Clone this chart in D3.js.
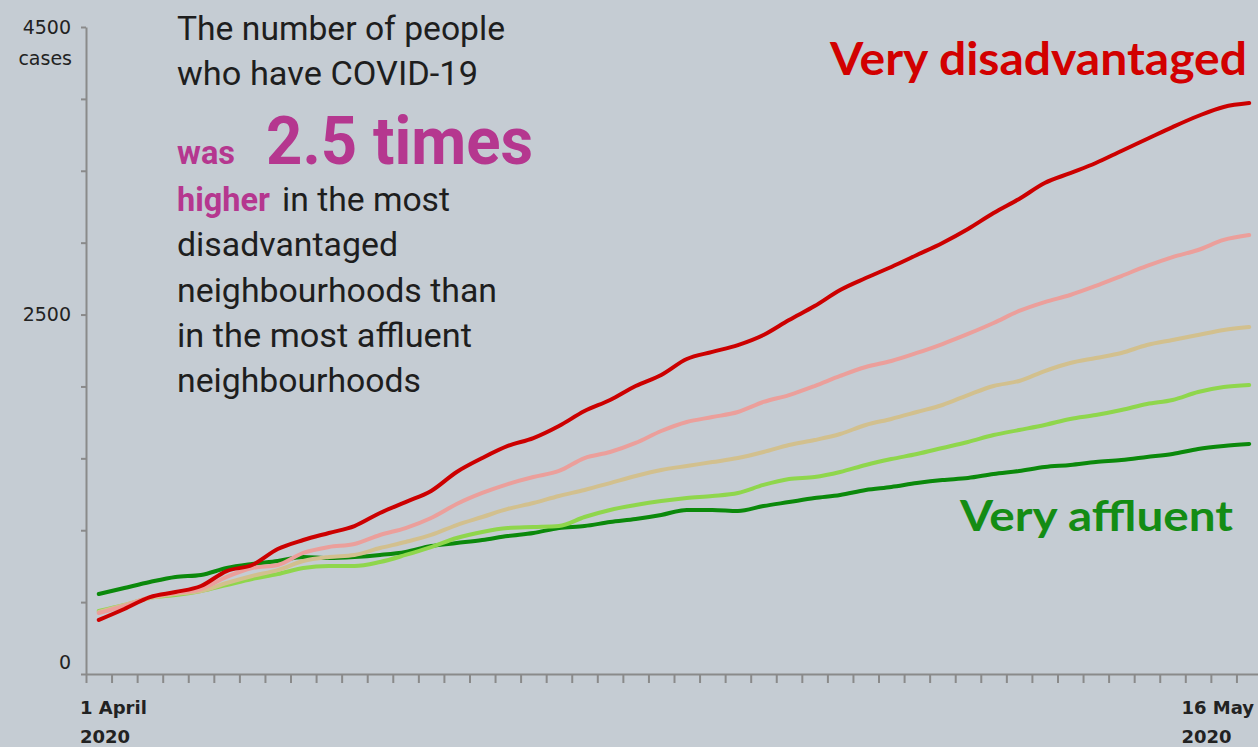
<!DOCTYPE html>
<html>
<head>
<meta charset="utf-8">
<title>COVID-19 cases by neighbourhood</title>
<script src="https://d3js.org/d3.v7.min.js"></script>
<style>
  body { margin: 0; background: #c5ccd3; overflow: hidden; }
  svg { display: block; }
</style>
</head>
<body>
<svg id="chart" width="1258" height="747"></svg>
<script>

// one value per day, 1 April .. 16 May 2020
var days = d3.timeDay.range(new Date(2020, 3, 1), new Date(2020, 4, 17));

var veryDisadvantaged = [376, 452, 535, 570, 612, 716, 758, 869, 932, 981, 1029, 1120, 1196, 1273, 1405, 1502,
  1586, 1641, 1725, 1829, 1906, 2003, 2080, 2191, 2240, 2288, 2358, 2462, 2559, 2671, 2754, 2831,
  2914, 2998, 3095, 3206, 3304, 3415, 3484, 3554, 3638, 3721, 3804, 3881, 3944, 3971];
var disadvantaged = [424, 473, 535, 563, 591, 675, 737, 758, 842, 883, 904, 967, 1015, 1085, 1182, 1259,
  1321, 1370, 1412, 1502, 1544, 1607, 1690, 1753, 1787, 1822, 1892, 1940, 2003, 2073, 2135, 2177,
  2233, 2295, 2365, 2441, 2525, 2587, 2636, 2699, 2768, 2838, 2900, 2949, 3019, 3053];
var middle = [431, 480, 529, 556, 577, 633, 682, 723, 786, 814, 828, 876, 918, 967, 1036, 1092,
  1148, 1189, 1238, 1280, 1328, 1377, 1419, 1447, 1474, 1502, 1544, 1593, 1627, 1669, 1732, 1774,
  1822, 1871, 1940, 2003, 2038, 2107, 2163, 2198, 2233, 2288, 2323, 2358, 2393, 2413];
var affluent = [438, 480, 529, 549, 577, 619, 661, 695, 737, 751, 751, 779, 828, 883, 946, 988,
  1015, 1022, 1029, 1092, 1141, 1175, 1203, 1224, 1238, 1259, 1315, 1356, 1370, 1405, 1454, 1495,
  1530, 1572, 1614, 1662, 1697, 1732, 1774, 1801, 1836, 1878, 1906, 1961, 1996, 2010];
var veryAffluent = [556, 598, 640, 675, 689, 737, 765, 786, 814, 807, 814, 828, 849, 890, 911, 932,
  960, 981, 1015, 1029, 1057, 1078, 1106, 1141, 1141, 1134, 1168, 1196, 1224, 1245, 1280, 1301,
  1328, 1349, 1363, 1391, 1412, 1440, 1454, 1474, 1488, 1509, 1530, 1565, 1586, 1600];

var yTicks = d3.range(0, 4501, 500);
var yLabels = [0, 2500, 4500];

// drawn bottom to top so the red line sits over the others
var series = [
  { name: "Very affluent", values: veryAffluent, color: "#0b890b" },
  { name: "Affluent", values: affluent, color: "#8fd64c" },
  { name: "Middle", values: middle, color: "#d2c08e" },
  { name: "Disadvantaged", values: disadvantaged, color: "#eb9f9b" },
  { name: "Very disadvantaged", values: veryDisadvantaged, color: "#cc0000" }
];

var svg = d3.select("#chart");

svg.append("rect")
  .attr("width", 1258)
  .attr("height", 747)
  .attr("fill", "#c5ccd3");

// scales: each day is a slot between two ticks
var x = d3.scaleTime()
  .domain([days[0], d3.timeDay.offset(days[days.length - 1], 1)])
  .range([86, 1262]);

var y = d3.scaleLinear()
  .domain([0, 4500])
  .range([674, 27]);

var mid = function(d) { return x(d3.timeHour.offset(d, 12)); };

// x axis
var xAxis = svg.append("g")
  .attr("transform", "translate(0,674)")
  .call(d3.axisBottom(x)
    .ticks(d3.timeDay.every(1))
    .tickSize(9)
    .tickSizeOuter(0)
    .tickFormat(""));

// y axis
var yAxis = svg.append("g")
  .attr("transform", "translate(86,0)")
  .call(d3.axisLeft(y)
    .tickValues(yTicks)
    .tickSize(5)
    .tickSizeOuter(0)
    .tickPadding(10)
    .tickFormat(function(d) { return yLabels.indexOf(d) >= 0 ? d : ""; }));

svg.selectAll(".domain, .tick line")
  .attr("stroke", "#8a8a8a")
  .attr("stroke-width", 2);

yAxis.selectAll("text")
  .style("font-family", "DejaVu Sans")
  .style("font-size", "19px")
  .attr("fill", "#222");

// the 0 label sits a little above its tick
yAxis.selectAll(".tick")
  .filter(function(d) { return d === 0; })
  .select("text")
  .attr("dy", "-0.3em");

svg.append("text")
  .attr("x", 72)
  .attr("y", 65)
  .attr("text-anchor", "end")
  .style("font-family", "DejaVu Sans")
  .style("font-size", "19px")
  .attr("fill", "#222")
  .text("cases");

// date labels
var dateLabels = [
  { day: days[0], lines: ["1 April", "2020"], dx: -6 },
  { day: days[days.length - 1], lines: ["16 May", "2020"], dx: -55 }
];

dateLabels.forEach(function(l) {
  l.lines.forEach(function(t, i) {
    svg.append("text")
      .attr("x", x(l.day) + l.dx)
      .attr("y", 714 + i * 29)
      .style("font-family", "DejaVu Sans")
      .style("font-weight", "bold")
      .style("font-size", "18px")
      .attr("fill", "#222")
      .text(t);
  });
});

// lines
var line = d3.line()
  .x(function(d, i) { return mid(days[i]); })
  .y(function(d) { return y(d); })
  .curve(d3.curveMonotoneX);

svg.append("g")
  .selectAll("path")
  .data(series)
  .enter()
  .append("path")
  .attr("d", function(d) { return line(d.values); })
  .attr("fill", "none")
  .attr("stroke", function(d) { return d.color; })
  .attr("stroke-width", 4)
  .attr("stroke-linejoin", "round")
  .attr("stroke-linecap", "round");

// end labels
svg.append("text")
  .attr("x", 830)
  .attr("y", 75)
  .attr("textLength", 417)
  .attr("lengthAdjust", "spacingAndGlyphs")
  .style("font-family", "Lato")
  .style("font-weight", "bold")
  .style("font-size", "46px")
  .attr("fill", "#d20000")
  .text("Very disadvantaged");

svg.append("text")
  .attr("x", 960)
  .attr("y", 531)
  .attr("textLength", 273)
  .attr("lengthAdjust", "spacingAndGlyphs")
  .style("font-family", "Lato")
  .style("font-weight", "bold")
  .style("font-size", "42px")
  .attr("fill", "#148c14")
  .text("Very affluent");

// headline text block
var purple = "#b5378f";
var dark = "#1e1e1e";
var blurb = [
  { t: "The number of people", x: 177, y: 40, w: 328, size: 33, bold: false, c: dark },
  { t: "who have COVID-19", x: 177, y: 85, w: 301, size: 33, bold: false, c: dark },
  { t: "was", x: 177, y: 164, w: 58, size: 33, bold: true, c: purple },
  { t: "2.5 times", x: 266, y: 164, w: 267, size: 66, bold: true, c: purple },
  { t: "higher", x: 177, y: 211, w: 93, size: 33, bold: true, c: purple },
  { t: "in the most", x: 282, y: 211, w: 168, size: 33, bold: false, c: dark },
  { t: "disadvantaged", x: 177, y: 256, w: 221, size: 33, bold: false, c: dark },
  { t: "neighbourhoods than", x: 177, y: 302, w: 320, size: 33, bold: false, c: dark },
  { t: "in the most affluent", x: 177, y: 347, w: 295, size: 33, bold: false, c: dark },
  { t: "neighbourhoods", x: 177, y: 392, w: 244, size: 33, bold: false, c: dark }
];

svg.append("g")
  .selectAll("text")
  .data(blurb)
  .enter()
  .append("text")
  .attr("x", function(d) { return d.x; })
  .attr("y", function(d) { return d.y; })
  .attr("textLength", function(d) { return d.w; })
  .attr("lengthAdjust", "spacingAndGlyphs")
  .style("font-family", "Roboto")
  .style("font-weight", function(d) { return d.bold ? "bold" : "normal"; })
  .style("font-size", function(d) { return d.size + "px"; })
  .attr("fill", function(d) { return d.c; })
  .text(function(d) { return d.t; });

</script>
</body>
</html>
